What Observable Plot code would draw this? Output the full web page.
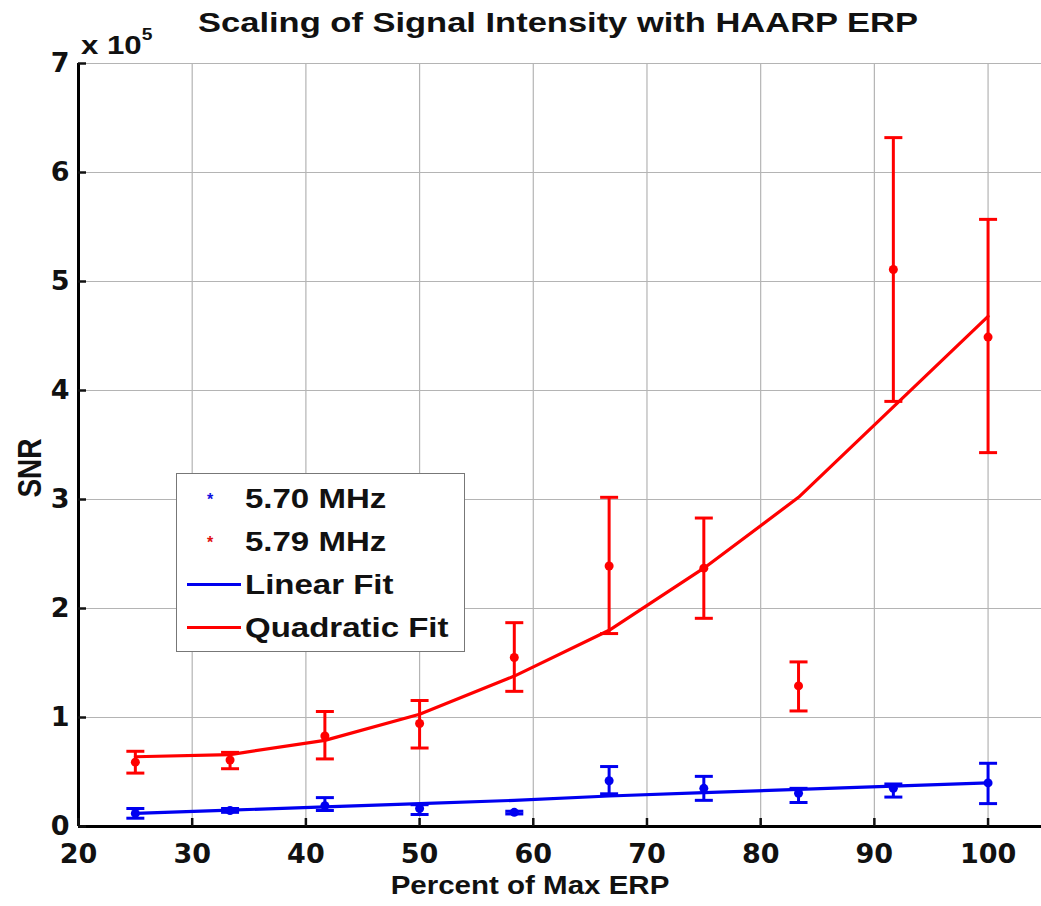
<!DOCTYPE html>
<html>
<head>
<meta charset="utf-8">
<script src="https://cdn.jsdelivr.net/npm/d3@7"></script>
<script src="https://cdn.jsdelivr.net/npm/@observablehq/plot@0.6"></script>
<style>
  html, body { margin: 0; padding: 0; background: #fff; }
  body { width: 1041px; height: 906px; position: relative; overflow: hidden;
         font-family: "Liberation Sans", Arial, sans-serif; font-weight: bold; color: #111; }
  #title { position: absolute; left: 0; top: 0; width: 1041px; height: 45px; }
  #title span { position: absolute; left: 558px; top: 22px; font-size: 28.5px; white-space: nowrap;
                transform: translate(-50%, -50%) scaleX(1.21); }
  #chart { position: absolute; left: 0; top: 45px; }
  .ov { position: absolute; white-space: nowrap; }
  #expo { left: 81px; top: 30px; font-size: 26px; transform-origin: left center; transform: scaleX(1.2); }
  #expo sup { font-size: 16px; position: relative; top: -4px; }
  #snr { left: 30px; top: 468px; font-size: 28px; transform: translate(-50%, -50%) rotate(-90deg) scale(1, 1.2); }
  #xlab { left: 530px; top: 885px; font-size: 25px; transform: translate(-50%, -50%) scaleX(1.18); }
  #legend { position: absolute; left: 176px; top: 473px; width: 289px; height: 179px; box-sizing: border-box;
            border: 1.5px solid #777; background: #fff; }
  .row { position: absolute; left: 0; height: 43px; width: 100%; }
  .row .lbl { position: absolute; left: 68px; top: 50%; font-size: 27.5px; transform-origin: left center;
              transform: translateY(-50%) scaleX(1.2); white-space: nowrap; }
  .row .ln { position: absolute; left: 10px; width: 54px; top: 50%; height: 3px; margin-top: -1.5px; }
  .row .mk { position: absolute; left: 30px; top: 50%; font-size: 16px; transform: translateY(-45%); }
</style>
</head>
<body>
<div id="title"><span>Scaling of Signal Intensity with HAARP ERP</span></div>
<div id="chart"></div>
<div class="ov" id="expo">x 10<sup>5</sup></div>
<div class="ov" id="snr">SNR</div>
<div class="ov" id="xlab">Percent of Max ERP</div>
<div id="legend"></div>
<script>
// Percent of max ERP (x)
const erp = [25, 33.33, 41.67, 50, 58.33, 66.67, 75, 83.33, 91.67, 100];
// SNR values in units of 10^5
// 5.70 MHz (blue)
const snr570 = [0.12, 0.147, 0.19, 0.165, 0.13, 0.42, 0.35, 0.305, 0.35, 0.40];
const snr570Hi = [0.165, 0.165, 0.265, 0.20, 0.14, 0.55, 0.46, 0.35, 0.39, 0.58];
const snr570Lo = [0.076, 0.13, 0.147, 0.11, 0.115, 0.30, 0.24, 0.22, 0.27, 0.21];
const linearFit = [0.12, 0.15, 0.18, 0.21, 0.24, 0.28, 0.31, 0.34, 0.37, 0.40];
// 5.79 MHz (red)
const snr579 = [0.59, 0.61, 0.83, 0.945, 1.55, 2.39, 2.37, 1.29, 5.11, 4.49];
const snr579Hi = [0.69, 0.68, 1.055, 1.156, 1.87, 3.02, 2.83, 1.51, 6.32, 5.57];
const snr579Lo = [0.49, 0.53, 0.62, 0.72, 1.24, 1.77, 1.91, 1.06, 3.90, 3.43];
const quadFit = [0.64, 0.66, 0.79, 1.03, 1.38, 1.80, 2.37, 3.02, 3.85, 4.68];

const xTicks = [20, 30, 40, 50, 60, 70, 80, 90, 100];
const yTicks = [0, 1, 2, 3, 4, 5, 6, 7];

const legendItems = [
  {label: "5.70 MHz", kind: "marker", color: "#1010e0"},
  {label: "5.79 MHz", kind: "marker", color: "#e01010"},
  {label: "Linear Fit", kind: "line", color: "#0000ee"},
  {label: "Quadratic Fit", kind: "line", color: "#ff0000"}
];

const BLUE = "#0000f0", RED = "#ff0000";

const blue = erp.map((x, i) => ({x, y: snr570[i], hi: snr570Hi[i], lo: snr570Lo[i], fit: linearFit[i]}));
const red = erp.map((x, i) => ({x, y: snr579[i], hi: snr579Hi[i], lo: snr579Lo[i], fit: quadFit[i]}));

const cap = {
  draw(context, size) {
    const r = Math.sqrt(size / Math.PI);
    context.moveTo(-r, 0);
    context.lineTo(r, 0);
  }
};

function errorMarks(data, color) {
  return [
    Plot.ruleX(data, {x: "x", y1: "lo", y2: "hi", stroke: color, strokeWidth: 3}),
    Plot.dot(data, {x: "x", y: "hi", symbol: cap, r: 9, stroke: color, strokeWidth: 3, fill: "none"}),
    Plot.dot(data, {x: "x", y: "lo", symbol: cap, r: 9, stroke: color, strokeWidth: 3, fill: "none"}),
    Plot.dot(data, {x: "x", y: "y", r: 4.5, fill: color, stroke: "none"})
  ];
}

const chart = Plot.plot({
  width: 1041,
  height: 861,
  marginTop: 18,
  marginBottom: 80,
  marginLeft: 78,
  marginRight: 0,
  style: {fontFamily: "'DejaVu Sans', sans-serif", fontWeight: "bold", fontSize: "27px", color: "#111", background: "#fff"},
  x: {domain: [20, 104.7]},
  y: {domain: [0, 7]},
  marks: [
    Plot.gridX(xTicks, {stroke: "#b4b4b4", strokeOpacity: 1, strokeWidth: 1.2}),
    Plot.gridY(yTicks, {stroke: "#b4b4b4", strokeOpacity: 1, strokeWidth: 1.2}),
    Plot.line(blue, {x: "x", y: "fit", stroke: BLUE, strokeWidth: 3.2}),
    Plot.line(red, {x: "x", y: "fit", stroke: RED, strokeWidth: 3.2}),
    ...errorMarks(blue, BLUE),
    ...errorMarks(red, RED),
    Plot.ruleY([0], {stroke: "#000", strokeWidth: 3}),
    Plot.ruleX([20], {stroke: "#000", strokeWidth: 3}),
    Plot.axisX(xTicks, {anchor: "bottom", tickSize: -8, strokeWidth: 2.5, text: null, label: null}),
    Plot.axisX(xTicks, {anchor: "bottom", tickSize: 0, tickPadding: 17, tickFormat: d3.format("d"), label: null}),
    Plot.axisY(yTicks, {anchor: "left", tickSize: -8, strokeWidth: 2.5, text: null, label: null}),
    Plot.axisY(yTicks, {anchor: "left", tickSize: 0, tickPadding: 9, tickFormat: d3.format("d"), label: null})
  ]
});

document.getElementById("chart").appendChild(chart);

const legend = document.getElementById("legend");
legendItems.forEach((d, i) => {
  const row = document.createElement("div");
  row.className = "row";
  row.style.top = (3 + i * 43) + "px";
  if (d.kind === "line") {
    const ln = document.createElement("div");
    ln.className = "ln"; ln.style.background = d.color;
    row.appendChild(ln);
  } else {
    const mk = document.createElement("div");
    mk.className = "mk"; mk.style.color = d.color; mk.textContent = "*";
    row.appendChild(mk);
  }
  const lb = document.createElement("div");
  lb.className = "lbl"; lb.textContent = d.label;
  row.appendChild(lb);
  legend.appendChild(row);
});
</script>
</body>
</html>
